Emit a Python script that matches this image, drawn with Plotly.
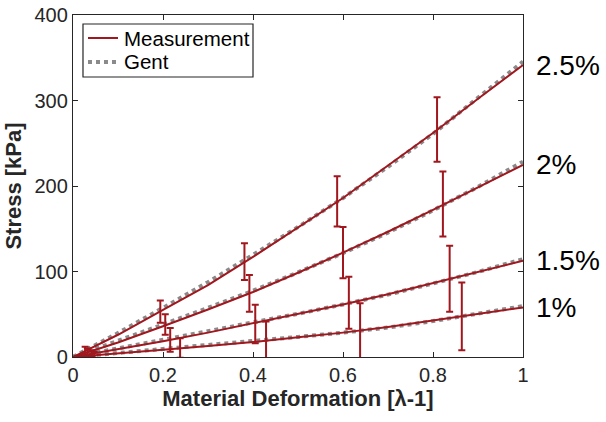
import plotly.graph_objects as go

# ---- data ----
strain = [0, 0.1, 0.2, 0.3, 0.4, 0.5, 0.6, 0.7, 0.8, 0.9, 1.0]
levels = ["2.5%", "2%", "1.5%", "1%"]
series_names = ["Measurement", "Gent"]

meas_25 = [0, 26, 55, 84, 117, 151, 186, 224, 262, 302, 341.5]
meas_20 = [0, 17, 36, 55.5, 76, 98.5, 122, 146.5, 172, 198, 224.6]
meas_15 = [0, 9, 18.5, 28.5, 39.5, 50.5, 61.5, 73.5, 86.5, 99.5, 112.5]
meas_10 = [0, 4, 8.5, 13, 17.5, 23, 28.5, 35, 42.5, 50.5, 58]

gent_25 = [0, 28, 57.5, 87.5, 119.5, 152, 186, 222.5, 261, 302.5, 345.5]
gent_20 = [0, 18.5, 38, 57.5, 77.5, 99, 121.5, 145.5, 171.5, 199, 228.5]
gent_15 = [0, 10, 20, 29.5, 40, 50.5, 61.5, 73, 86, 99.5, 114.5]
gent_10 = [0, 4.5, 9.5, 14, 18.5, 23.5, 28.5, 34.5, 42, 50.5, 59.5]

# error-bar points: strain, mean stress, std
eb_x_25 = [0.027, 0.194, 0.381, 0.587, 0.809]
eb_y_25 = [6, 53, 111.5, 182, 266]
eb_e_25 = [6, 13, 21.5, 29.5, 37.7]

eb_x_20 = [0.032, 0.205, 0.392, 0.600, 0.822]
eb_y_20 = [5, 38, 74.5, 122, 179]
eb_e_20 = [5, 12, 21.5, 30, 38]

eb_x_15 = [0.042, 0.216, 0.405, 0.613, 0.837]
eb_y_15 = [4, 20, 38.5, 63.5, 91.5]
eb_e_15 = [4, 14, 22.5, 30.5, 38.5]

eb_x_10 = [0.047, 0.238, 0.429, 0.638, 0.864]
eb_y_10 = [2.5, 10.5, 18.5, 30, 47.5]
eb_e_10 = [3.5, 11.5, 23, 33, 39.5]

x_ticks = [0, 0.2, 0.4, 0.6, 0.8, 1]
x_tick_text = ["0", "0.2", "0.4", "0.6", "0.8", "1"]
y_ticks = [0, 100, 200, 300, 400]

# ---- styling ----
RED = "#A0171E"
GREY = "#8a8a8a"
AX = "#262626"
FONT = "Liberation Sans, Arial, sans-serif"

meas = [meas_25, meas_20, meas_15, meas_10]
gent = [gent_25, gent_20, gent_15, gent_10]
ebx = [eb_x_25, eb_x_20, eb_x_15, eb_x_10]
eby = [eb_y_25, eb_y_20, eb_y_15, eb_y_10]
ebe = [eb_e_25, eb_e_20, eb_e_15, eb_e_10]

fig = go.Figure()

for i, g in enumerate(gent):
    fig.add_trace(go.Scatter(
        x=strain, y=g, mode="lines", name=series_names[1],
        line=dict(color=GREY, width=4, dash="dot"),
        showlegend=False,
    ))

for i, m in enumerate(meas):
    fig.add_trace(go.Scatter(
        x=strain, y=m, mode="lines", name=series_names[0],
        line=dict(color=RED, width=2),
        showlegend=False,
    ))

for i in range(4):
    fig.add_trace(go.Scatter(
        x=ebx[i], y=eby[i], mode="markers",
        marker=dict(size=1, color="rgba(0,0,0,0)"),
        error_y=dict(type="data", array=ebe[i], symmetric=True,
                     color=RED, thickness=2, width=3.5),
        showlegend=False, hoverinfo="skip",
    ))

for i, lab in enumerate(levels):
    fig.add_annotation(
        x=1, y=meas[i][-1], xref="x", yref="y", text=lab,
        showarrow=False, xanchor="left", yanchor="middle",
        xshift=11, font=dict(family=FONT, size=28, color="black"),
    )

# ---- legend box (MATLAB style) ----
fig.add_shape(type="rect", xref="paper", yref="paper",
              x0=0.0222, x1=0.40, y0=0.8187, y1=0.9737,
              line=dict(color=AX, width=1.2), fillcolor="white", layer="above")
leg_y = [0.9327, 0.8626]
leg_style = [dict(color=RED, width=2), dict(color=GREY, width=4, dash="dot")]
for k in range(2):
    fig.add_shape(type="line", xref="paper", yref="paper",
                  x0=0.0333, x1=0.100, y0=leg_y[k], y1=leg_y[k],
                  line=leg_style[k], layer="above")
    fig.add_annotation(x=0.1089, y=leg_y[k], xref="paper", yref="paper",
                       text=series_names[k], showarrow=False,
                       xanchor="left", yanchor="middle",
                       font=dict(family=FONT, size=20.5, color="black"))

fig.update_layout(
    width=606, height=422,
    margin=dict(l=73, r=83, t=15, b=65, autoexpand=False),
    paper_bgcolor="white", plot_bgcolor="white",
    font=dict(family=FONT, color=AX, size=20),
    showlegend=False,
)

fig.update_xaxes(
    range=[0, 1], tickvals=x_ticks, ticktext=x_tick_text,
    showgrid=False, zeroline=False, automargin=False,
    showline=True, linecolor=AX, linewidth=1.3, mirror="ticks",
    ticks="inside", ticklen=5, tickcolor=AX, tickwidth=1.3,
    tickfont=dict(family=FONT, size=20, color=AX),
    title=dict(text="<b>Material Deformation [λ-1]</b>",
               font=dict(family=FONT, size=22, color=AX), standoff=4),
)
fig.update_yaxes(
    range=[0, 400], tickvals=y_ticks,
    showgrid=False, zeroline=False, automargin=False,
    showline=True, linecolor=AX, linewidth=1.3, mirror="ticks",
    ticks="inside", ticklen=5, tickcolor=AX, tickwidth=1.3,
    tickfont=dict(family=FONT, size=20, color=AX),
    title=dict(text="<b>Stress [kPa]</b>",
               font=dict(family=FONT, size=22, color=AX), standoff=6),
)

# remove the browser's default 8px page margin so the figure fills the window
fig.write_html("out.html",
               config={"displayModeBar": False},
               post_script="document.body.style.margin='0px';")
